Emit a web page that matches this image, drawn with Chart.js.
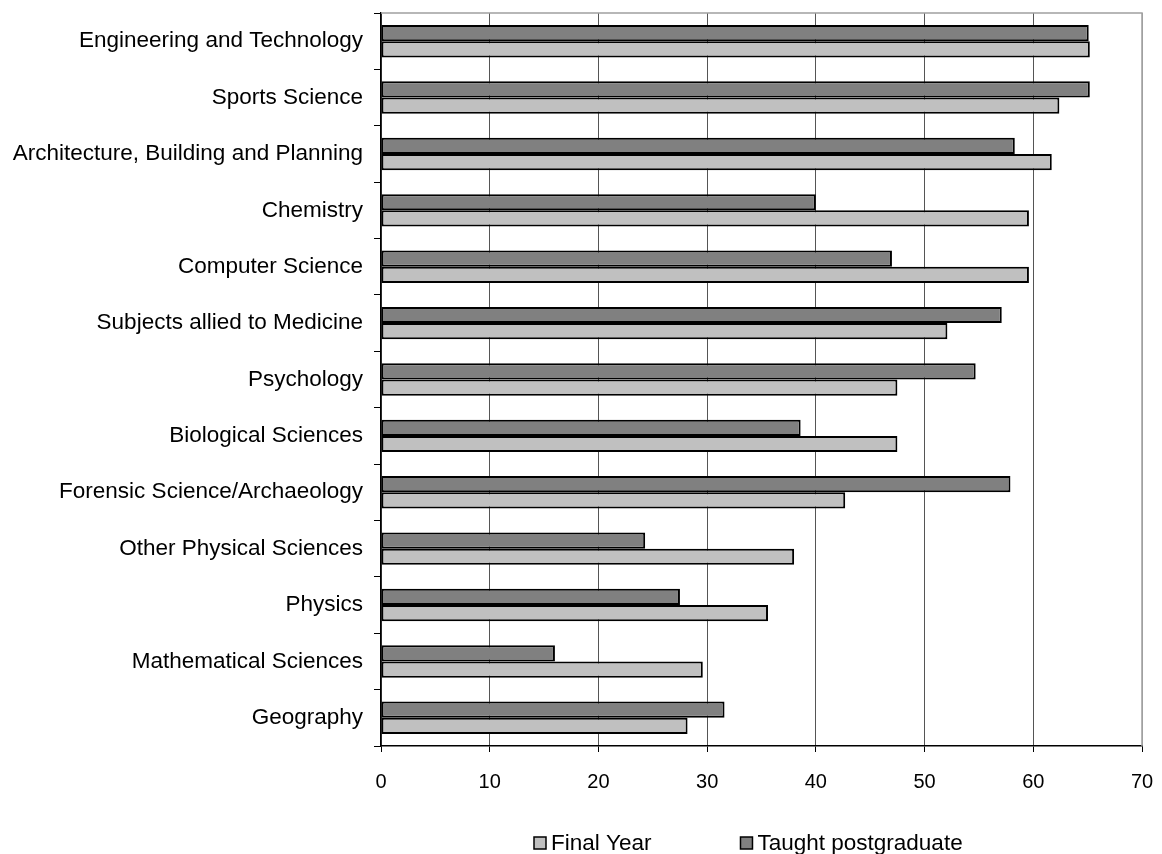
<!DOCTYPE html>
<html>
<head>
<meta charset="utf-8">
<script src="https://cdn.jsdelivr.net/npm/chart.js@4/dist/chart.umd.min.js"></script>
<style>
  html, body { margin: 0; padding: 0; background: #fff; }
  #wrap { width: 1162px; height: 854px; position: relative; }
</style>
</head>
<body>
<div id="wrap"><canvas id="chart"></canvas></div>
<script>
const categories = [
  'Engineering and Technology',
  'Sports Science',
  'Architecture, Building and Planning',
  'Chemistry',
  'Computer Science',
  'Subjects allied to Medicine',
  'Psychology',
  'Biological Sciences',
  'Forensic Science/Archaeology',
  'Other Physical Sciences',
  'Physics',
  'Mathematical Sciences',
  'Geography'
];
const finalYear = [65.2, 62.4, 61.7, 59.6, 59.6, 52.1, 47.5, 47.5, 42.7, 38.0, 35.6, 29.6, 28.2];
const taughtPG  = [65.1, 65.2, 58.3, 40.0, 47.0, 57.1, 54.7, 38.6, 57.9, 24.3, 27.5, 16.0, 31.6];
const xTicks = [0, 10, 20, 30, 40, 50, 60, 70];

const FONT = 'Liberation Sans, Arial, sans-serif';

// top + right frame in grey, legend drawn underneath the axis labels
const framePlugin = {
  id: 'frame',
  beforeDatasetsDraw(chart) {
    const { ctx, chartArea: a } = chart;
    ctx.save();
    ctx.strokeStyle = '#a0a0a0';
    ctx.lineWidth = 1.5;
    ctx.beginPath();
    ctx.moveTo(a.left, a.top);
    ctx.lineTo(a.right, a.top);
    ctx.lineTo(a.right, a.bottom);
    ctx.stroke();
    ctx.restore();
  },
  afterDraw(chart) {
    const { ctx } = chart;
    const order = [1, 0]; // Final Year first in legend
    ctx.save();
    ctx.font = '22.5px ' + FONT;
    ctx.textBaseline = 'middle';
    const box = 12, gap = 5, spacing = 89;
    let x = 534;
    const y = 843;
    order.forEach(i => {
      const ds = chart.data.datasets[i];
      ctx.fillStyle = ds.backgroundColor;
      ctx.fillRect(x, y - box / 2, box, box);
      ctx.strokeStyle = '#000';
      ctx.lineWidth = 1.5;
      ctx.strokeRect(x, y - box / 2, box, box);
      ctx.fillStyle = '#000';
      ctx.fillText(ds.label, x + box + gap, y + 1);
      x += box + gap + ctx.measureText(ds.label).width + spacing;
    });
    ctx.restore();
  }
};

new Chart(document.getElementById('chart'), {
  type: 'bar',
  data: {
    labels: categories,
    datasets: [
      { label: 'Taught postgraduate', data: taughtPG, backgroundColor: '#808080',
        borderColor: '#000', borderWidth: 2, borderSkipped: false,
        categoryPercentage: 0.575, barPercentage: 1 },
      { label: 'Final Year', data: finalYear, backgroundColor: '#c0c0c0',
        borderColor: '#000', borderWidth: 2, borderSkipped: false,
        categoryPercentage: 0.575, barPercentage: 1 }
    ]
  },
  options: {
    indexAxis: 'y',
    responsive: true,
    maintainAspectRatio: false,
    animation: false,
    layout: { padding: { top: 13, right: 20, left: 0, bottom: 0 } },
    plugins: {
      legend: { display: false },
      tooltip: { enabled: false }
    },
    scales: {
      x: {
        min: 0, max: 70,
        afterBuildTicks: s => { s.ticks = xTicks.map(v => ({ value: v })); },
        afterFit: s => { s.height = 108; s.paddingLeft = 0; s.paddingRight = 0; },
        grid: {
          color: c => (c.tick && c.tick.value === 70) ? '#a0a0a0' : '#555',
          tickColor: '#000',
          tickLength: 6,
          lineWidth: 1
        },
        border: { color: '#000', width: 1.5 },
        ticks: { color: '#000', font: { family: FONT, size: 20 }, padding: 18, maxRotation: 0 }
      },
      y: {
        afterFit: s => { s.width = 381; s.paddingTop = 0; s.paddingBottom = 0; },
        grid: {
          offset: true,
          drawOnChartArea: false,
          tickColor: '#000',
          tickLength: 7
        },
        border: { color: '#000', width: 1.5 },
        ticks: { color: '#000', font: { family: FONT, size: 22.5 }, padding: 11, autoSkip: false }
      }
    }
  },
  plugins: [framePlugin]
});
</script>
</body>
</html>
